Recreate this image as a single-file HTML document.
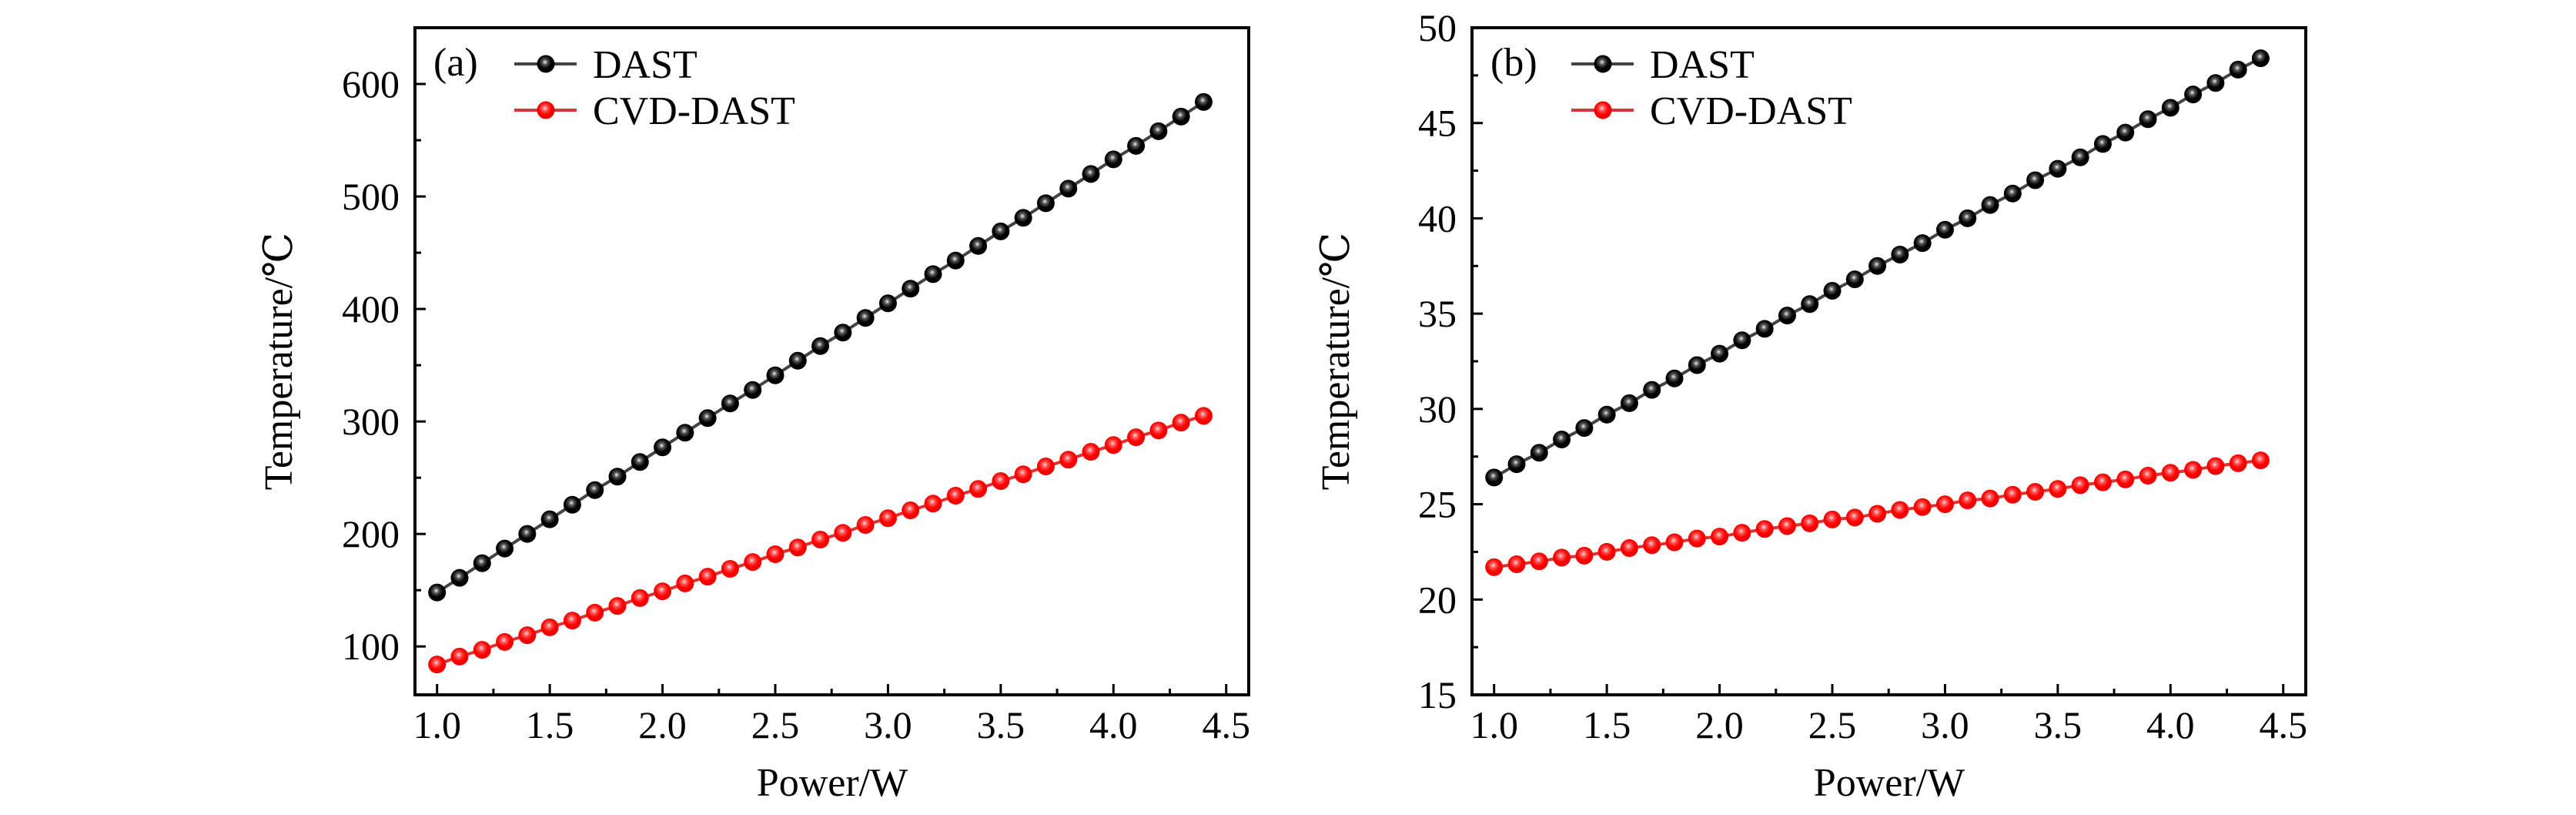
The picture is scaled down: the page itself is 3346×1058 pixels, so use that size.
<!DOCTYPE html>
<html><head><meta charset="utf-8"><style>
html,body{margin:0;padding:0;background:#fff;}
svg text{font-family:"Liberation Serif","DejaVu Serif",serif;fill:#000;}
</style></head><body>
<svg id="chart" width="3346" height="1053" viewBox="0 0 3346 1053" xmlns="http://www.w3.org/2000/svg" font-family="Liberation Serif, serif">
<defs>
<radialGradient id="gBlack" cx="0.45" cy="0.4" r="0.6"><stop offset="0" stop-color="#eee"/><stop offset="0.25" stop-color="#555"/><stop offset="0.6" stop-color="#000"/><stop offset="1" stop-color="#000"/></radialGradient>
<radialGradient id="gRed" cx="0.45" cy="0.4" r="0.6"><stop offset="0" stop-color="#fdd"/><stop offset="0.25" stop-color="#f55"/><stop offset="0.6" stop-color="#f00"/><stop offset="1" stop-color="#e00"/></radialGradient>
</defs>
</svg>
<script>
const xValues = [1.0,1.1,1.2,1.3,1.4,1.5,1.6,1.7,1.8,1.9,2.0,2.1,2.2,2.3,2.4,2.5,2.6,2.7,2.8,2.9,3.0,3.1,3.2,3.3,3.4,3.5,3.6,3.7,3.8,3.9,4.0,4.1,4.2,4.3,4.4];
const dastA = [148,161,174,187,200,213,226,239,251,264,277,290,303,316,328,341,354,367,379,392,405,418,431,443,456,469,481,494,507,520,533,545,558,571,584];
const cvdA = [84,91,97,104,110,117,123,130,136,143,149,156,162,169,175,182,188,195,201,208,214,221,227,234,240,247,253,260,266,273,279,286,292,299,305];
const dastB = [26.4,27.1,27.7,28.4,29.0,29.7,30.3,31.0,31.6,32.3,32.9,33.6,34.2,34.9,35.5,36.2,36.8,37.5,38.1,38.7,39.4,40.0,40.7,41.3,42.0,42.6,43.2,43.9,44.5,45.2,45.8,46.5,47.1,47.8,48.4];
const cvdB = [21.7,21.85,22.0,22.2,22.3,22.5,22.7,22.85,23.0,23.2,23.3,23.5,23.7,23.85,24.0,24.2,24.3,24.5,24.7,24.85,25.0,25.2,25.3,25.5,25.65,25.8,26.0,26.15,26.3,26.5,26.65,26.8,27.0,27.15,27.3];
const xTicks = ["1.0","1.5","2.0","2.5","3.0","3.5","4.0","4.5"];
const yTicksA = ["100","200","300","400","500","600"];
const yTicksB = ["15","20","25","30","35","40","45","50"];
const seriesNames = ["DAST","CVD-DAST"];

const NS="http://www.w3.org/2000/svg";
const svg=document.getElementById('chart');
function mk(tag,attrs,parent){const e=document.createElementNS(NS,tag);for(const k in attrs)e.setAttribute(k,attrs[k]);if(tag==='text')e.setAttribute('font-family','Liberation Serif, serif');(parent||svg).appendChild(e);return e;}

function panel(id,left,label,yTicks,yMin,yMax,yMinorStep,s1,s2){
  const top=36,bottom=902,right=left+1083;
  const xMin=0.902,xMax=4.6;
  const g=mk('g',{});
  
  
  const X=v=>left+(v-xMin)/(xMax-xMin)*(right-left);
  const Y=v=>bottom-(v-yMin)/(yMax-yMin)*(bottom-top);
  for(let v=1.0;v<=4.5001;v+=0.25){
    const major=Math.abs((v*2)-Math.round(v*2))<1e-6;
    const t=mk('line',{x1:X(v),x2:X(v),y1:bottom,y2:bottom-(major?14:8),stroke:'#000','stroke-width':3},g);
    
    
  }
  xTicks.forEach(s=>{const v=parseFloat(s);
    const t=mk('text',{x:X(v),y:958,'font-size':50,'text-anchor':'middle'},g);t.textContent=s;
    
    });
  const y0=parseFloat(yTicks[0]);
  for(let v=y0-yMinorStep*2;v<=yMax+1e-6;v+=yMinorStep){
    if(v<yMin-1e-6)continue;
    const major=yTicks.some(s=>Math.abs(parseFloat(s)-v)<1e-6);
    const t=mk('line',{x1:left,x2:left+(major?14:8),y1:Y(v),y2:Y(v),stroke:'#000','stroke-width':3},g);
    
    
  }
  yTicks.forEach(s=>{const v=parseFloat(s);
    const t=mk('text',{x:left-20,y:Y(v)+17,'font-size':50,'text-anchor':'end'},g);t.textContent=s;
    
    });
  [[s1,'#444','url(#gBlack)'],[s2,'#d33','url(#gRed)']].forEach(([data,lc,fill],i)=>{
    const sg=mk('g',{},g);
    
    
    const pts=data.map((v,k)=>X(xValues[k])+','+Y(v)).join(' ');
    const pl=mk('polyline',{points:pts,fill:'none',stroke:lc,'stroke-width':4},sg);
    
    
    data.forEach((v,k)=>{
      const c=mk('circle',{cx:X(xValues[k]),cy:Y(v),r:11.5,fill:fill},sg);
      
      
    });
    const ly=83+i*60;
    const ll=mk('line',{x1:left+129,x2:left+210,y1:ly,y2:ly,stroke:lc,'stroke-width':4},g);
    
    
    const lc2=mk('circle',{cx:left+170,cy:ly,r:11.5,fill:fill},g);
    
    
    const lt=mk('text',{x:left+231,y:ly+18,'font-size':52},g);lt.textContent=seriesNames[i];
    
    
  });
  const pl=mk('text',{x:left+24,y:98,'font-size':52},g);pl.textContent=label;
  
  
  const fr=mk('rect',{x:left,y:top,width:right-left,height:bottom-top,fill:'none',stroke:'#000','stroke-width':4},g);
  
  
  const xt=mk('text',{x:left+542,y:1033,'font-size':52,'text-anchor':'middle'},g);xt.textContent='Power/W';
  
  
  const yt=mk('text',{x:0,y:0,'font-size':52,'text-anchor':'middle',transform:`translate(${left-160},${(top+bottom)/2}) rotate(-90)`},g);yt.textContent='Temperature/℃';
  
  
}
panel('a',539,'(a)',yTicksA,57,650,50,dastA,cvdA);
panel('b',1912,'(b)',yTicksB,15,50,2.5,dastB,cvdB);
</script>
</body></html>
